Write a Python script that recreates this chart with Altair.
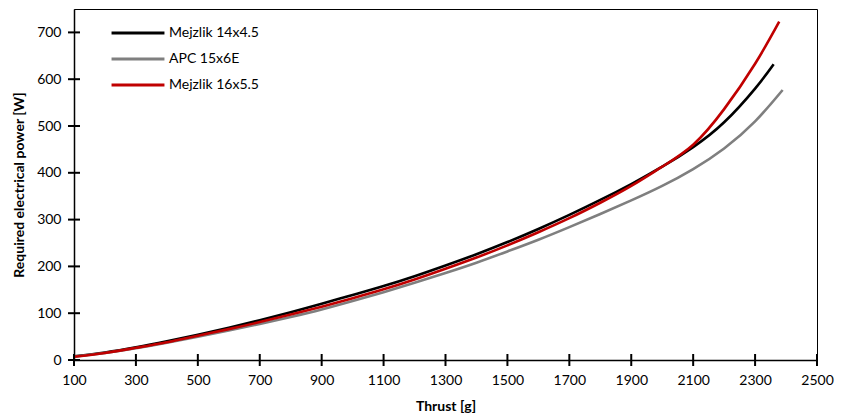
import altair as alt
import pandas as pd

series_names = ["Mejzlik 14x4.5", "APC 15x6E", "Mejzlik 16x5.5"]
series_colors = ["#000000", "#7f7f7f", "#c00000"]

thrust_14 = [100, 200, 300, 400, 500, 600, 700, 800, 900, 1000, 1100, 1200,
             1300, 1400, 1500, 1600, 1700, 1800, 1900, 2000, 2100, 2200, 2300, 2360]
power_14 = [8, 16, 27, 40, 54, 69, 85, 102, 120, 139, 158, 179,
            202, 226, 252, 280, 310, 342, 376, 413, 455, 508, 580, 632]

thrust_15 = [100, 200, 300, 400, 500, 600, 700, 800, 900, 1000, 1100, 1200,
             1300, 1400, 1500, 1600, 1700, 1800, 1900, 2000, 2100, 2200, 2300, 2389]
power_15 = [7, 15, 25, 37, 50, 63, 77, 92, 108, 126, 145, 165,
            186, 208, 232, 257, 284, 312, 341, 372, 408, 452, 510, 577]

thrust_16 = [100, 200, 300, 400, 500, 600, 700, 800, 900, 1000, 1100, 1200,
             1300, 1400, 1500, 1600, 1700, 1800, 1900, 2000, 2100, 2200, 2300, 2378]
power_16 = [7, 15, 26, 38, 52, 66, 81, 97, 114, 132, 151, 172,
            195, 219, 245, 273, 303, 336, 372, 413, 460, 536, 633, 723]

x_ticks = [100, 300, 500, 700, 900, 1100, 1300, 1500, 1700, 1900, 2100, 2300, 2500]
y_ticks = [0, 100, 200, 300, 400, 500, 600, 700]

rows = []
for name, xs, ys in zip(series_names, [thrust_14, thrust_15, thrust_16],
                        [power_14, power_15, power_16]):
    for i, (a, b) in enumerate(zip(xs, ys)):
        rows.append({"series": name, "thrust": a, "power": b, "idx": i})
df = pd.DataFrame(rows)
df_xt = pd.DataFrame({"thrust": x_ticks})
df_yt = pd.DataFrame({"power": y_ticks})

FONT = "Lato"
W, H = 743, 351

x_scale = alt.Scale(domain=[100, 2500], nice=False, zero=False)
y_scale = alt.Scale(domain=[0, 750], nice=False)

x_enc = alt.X("thrust:Q", title="Thrust [g]", scale=x_scale,
              axis=alt.Axis(values=x_ticks, format="d", labelFlush=False,
                            ticks=False, grid=False,
                            labelPadding=13, titlePadding=12))
y_enc = alt.Y("power:Q", title="Required electrical power [W]", scale=y_scale,
              axis=alt.Axis(values=y_ticks, format="d", labelFlush=False,
                            ticks=False, grid=False,
                            labelPadding=13, titlePadding=10))

lines = alt.Chart(df).mark_line(strokeWidth=2.6, interpolate="natural").encode(
    x=x_enc,
    y=y_enc,
    color=alt.Color("series:N",
                    scale=alt.Scale(domain=series_names, range=series_colors),
                    legend=alt.Legend(title=None, orient="none", legendX=57, legendY=17,
                                      symbolType="M-5,0H5", symbolSize=112,
                                      symbolStrokeWidth=3, labelOffset=24,
                                      rowPadding=12, padding=0,
                                      labelFont=FONT, labelFontSize=14,
                                      labelColor="#000000")),
    order=alt.Order("idx:Q"),
)

x_tick_marks = alt.Chart(df_xt).mark_rule(color="#000000", strokeWidth=2).encode(
    x=alt.X("thrust:Q", scale=x_scale),
    y=alt.value(H - 6), y2=alt.value(H + 6),
)
y_tick_marks = alt.Chart(df_yt).mark_rule(color="#000000", strokeWidth=2).encode(
    y=alt.Y("power:Q", scale=y_scale),
    x=alt.value(-6), x2=alt.value(6),
)

chart = alt.layer(lines, x_tick_marks, y_tick_marks).properties(
    width=W, height=H,
    autosize=alt.AutoSizeParams(type="none"),
    padding={"left": 66, "top": 1, "right": 20, "bottom": 56},
).configure_view(
    stroke="#000000", strokeWidth=1
).configure_axis(
    labelFont=FONT, labelFontSize=14, labelColor="#000000",
    titleFont=FONT, titleFontSize=14, titleFontWeight="bold", titleColor="#000000",
    domainColor="#000000", domainWidth=1.5,
)

chart.save("out.html", embed_options={"renderer": "svg", "actions": False})
